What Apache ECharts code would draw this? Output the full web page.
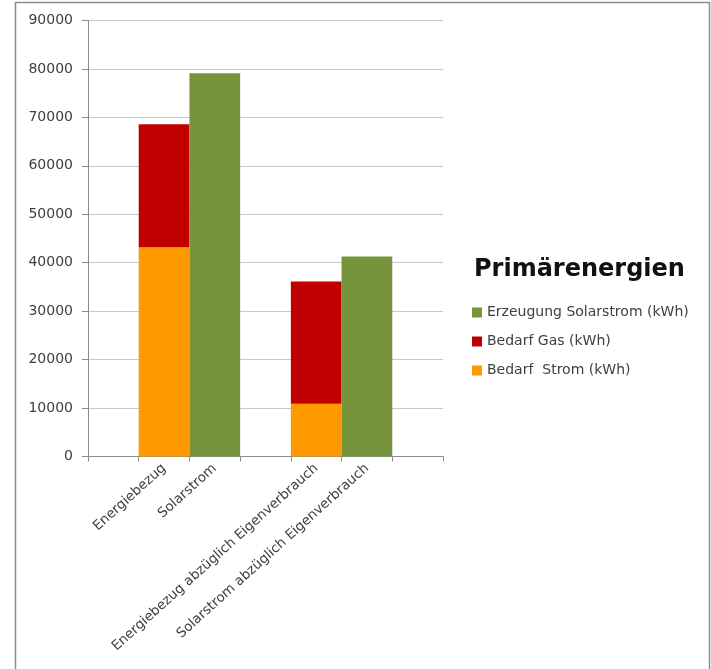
<!DOCTYPE html>
<html>
<head>
<meta charset="utf-8">
<script src="https://cdn.jsdelivr.net/npm/echarts@6/dist/echarts.min.js"></script>
<style>html,body{margin:0;padding:0;background:#fff}#c{width:711px;height:669px}</style>
</head>
<body>
<div id="c"></div>
<script>
// Category slots (blank slots give Excel-style gaps)
var categories = [' ', 'Energiebezug', 'Solarstrom', '  ', 'Energiebezug abzüglich Eigenverbrauch', 'Solarstrom abzüglich Eigenverbrauch', '   '];
var bedarfStrom = [null, 43200, null, null, 10900, null, null];
var bedarfGas = [null, 25400, null, null, 25200, null, null];
var solarstrom = [null, null, 79100, null, null, 41300, null];
var yTicks = [0, 10000, 20000, 30000, 40000, 50000, 60000, 70000, 80000, 90000];
var legendTitle = 'Primärenergien';
var seriesNames = ['Erzeugung Solarstrom (kWh)', 'Bedarf Gas (kWh)', 'Bedarf  Strom (kWh)'];

var font = 'DejaVu Sans';
var chart = echarts.init(document.getElementById('c'), null, {renderer: 'canvas'});
chart.setOption({
  animation: false,
  backgroundColor: '#ffffff',
  textStyle: {fontFamily: font},
  title: {
    text: legendTitle,
    left: 469, top: 253,
    textStyle: {fontFamily: font, fontSize: 24, fontWeight: 'bold', color: '#111'}
  },
  legend: {
    orient: 'vertical',
    left: 467, top: 300,
    itemWidth: 10, itemHeight: 10, itemGap: 14,
    icon: 'rect',
    data: seriesNames,
    textStyle: {fontFamily: font, fontSize: 14, color: '#404040', lineHeight: 15}
  },
  graphic: [{
    type: 'rect',
    shape: {x: 15.5, y: 2.5, width: 694, height: 700},
    style: {fill: 'none', stroke: '#8c8c8c', lineWidth: 1.5},
    silent: true
  }],
  grid: {left: 88, right: 268, top: 20.5, bottom: 212.5, containLabel: false},
  xAxis: {
    type: 'category',
    data: categories,
    axisLine: {lineStyle: {color: '#8c8c8c'}},
    axisTick: {show: true, interval: 0, length: 5, lineStyle: {color: '#8c8c8c'}},
    axisLabel: {interval: 0, rotate: 42, margin: 10, fontSize: 13.5, color: '#404040', fontFamily: font}
  },
  yAxis: {
    type: 'value',
    min: yTicks[0], max: yTicks[yTicks.length - 1], interval: 10000,
    axisLine: {show: true, lineStyle: {color: '#8c8c8c'}},
    axisTick: {show: true, length: 6, lineStyle: {color: '#8c8c8c'}},
    splitLine: {lineStyle: {color: '#c8c8c8'}},
    axisLabel: {fontSize: 14, color: '#404040', margin: 15, fontFamily: font,
      formatter: function (v) { return String(v); }}
  },
  series: [
    {name: seriesNames[2], type: 'bar', stack: 's', data: bedarfStrom, barWidth: '100%', itemStyle: {color: '#FF9900'}},
    {name: seriesNames[1], type: 'bar', stack: 's', data: bedarfGas, barWidth: '100%', itemStyle: {color: '#C00000'}},
    {name: seriesNames[0], type: 'bar', stack: 's', data: solarstrom, barWidth: '100%', itemStyle: {color: '#77933C'}}
  ]
});
</script>
</body>
</html>
